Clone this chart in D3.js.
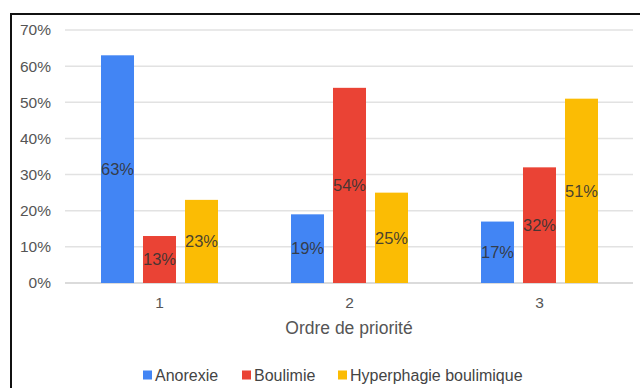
<!DOCTYPE html>
<html>
<head>
<meta charset="utf-8">
<script src="https://cdn.jsdelivr.net/npm/d3@7"></script>
<style>
  html, body { margin: 0; padding: 0; background: #fff; }
  svg { display: block; font-family: "Liberation Sans", Arial, sans-serif; }
</style>
</head>
<body>
<svg id="chart" width="640" height="388"></svg>
<script>
// Priority order categories and percentage per disorder
const categories = ["1", "2", "3"];
const seriesNames = ["Anorexie", "Boulimie", "Hyperphagie boulimique"];
const anorexie = [63, 19, 17];
const boulimie = [13, 54, 32];
const hyperphagie = [23, 25, 51];
const yTicks = [0, 10, 20, 30, 40, 50, 60, 70];
const colors = ["#4285F4", "#EA4335", "#FBBC04"];
const axisTitle = "Ordre de priorité";

const series = [anorexie, boulimie, hyperphagie];

const svg = d3.select("#chart");

// Outer frame
svg.append("rect")
  .attr("x", 11).attr("y", 14)
  .attr("width", 700).attr("height", 500)
  .attr("fill", "none").attr("stroke", "#111").attr("stroke-width", 2);

const x = d3.scaleBand().domain(categories).range([64.5, 634.5]).paddingInner(0).paddingOuter(0);
const inner = d3.scaleBand().domain(seriesNames).range([36.5, 190 - 36.5]).paddingInner(0.214);
const y = d3.scaleLinear().domain([0, 70]).range([283, 30]);

// Gridlines
const grid = svg.append("g");
grid.selectAll("line").data(yTicks).join("line")
  .attr("x1", 65).attr("x2", 633)
  .attr("y1", d => y(d)).attr("y2", d => y(d))
  .attr("stroke", d => d === 0 ? "#cfcfcf" : "#e2e2e2")
  .attr("stroke-width", 1.5);

// Y axis labels
const yAxis = d3.axisLeft(y).tickValues(yTicks).tickFormat(d => d + "%").tickSize(0).tickPadding(0);
const ya = svg.append("g").attr("transform", "translate(51,0)").call(yAxis);
ya.select(".domain").remove();
ya.selectAll("text").attr("fill", "#555").attr("font-size", 15.5)
  .attr("font-family", "Liberation Sans, Arial, sans-serif");

// Bars with centred value labels
const groups = svg.append("g").selectAll("g").data(categories).join("g")
  .attr("transform", d => `translate(${x(d)},0)`);

groups.each(function (cat, ci) {
  const g = d3.select(this);
  series.forEach((vals, si) => {
    const v = vals[ci];
    g.append("rect")
      .attr("x", inner(seriesNames[si]))
      .attr("width", inner.bandwidth())
      .attr("y", y(v))
      .attr("height", y(0) - y(v))
      .attr("fill", colors[si]);
    g.append("text")
      .attr("x", inner(seriesNames[si]) + inner.bandwidth() / 2)
      .attr("y", (y(v) + y(0)) / 2)
      .attr("dy", "0.35em")
      .attr("text-anchor", "middle")
      .attr("font-size", 16.5)
      .attr("fill", "#333")
      .attr("fill-opacity", 0.9)
      .text(v + "%");
  });
});

// X axis labels
const xAxis = d3.axisBottom(x).tickSize(0).tickPadding(0);
const xa = svg.append("g").attr("transform", "translate(0,297)").call(xAxis);
xa.select(".domain").remove();
xa.selectAll("text").attr("fill", "#555").attr("font-size", 15.5)
  .attr("font-family", "Liberation Sans, Arial, sans-serif").attr("dy", "0.35em").attr("y", 6);

svg.append("text")
  .attr("x", 349).attr("y", 328).attr("dy", "0.35em")
  .attr("text-anchor", "middle").attr("font-size", 17.5).attr("fill", "#555")
  .text(axisTitle);

// Legend
const legendX = [143, 242, 338];
const legend = svg.append("g").selectAll("g").data(seriesNames).join("g")
  .attr("transform", (d, i) => `translate(${legendX[i]},375)`);
legend.append("rect").attr("x", 0).attr("y", -4.5).attr("width", 9).attr("height", 9)
  .attr("fill", (d, i) => colors[i]);
legend.append("text").attr("x", 12).attr("dy", "0.35em")
  .attr("font-size", 16).attr("fill", "#444").text(d => d);
</script>
</body>
</html>
